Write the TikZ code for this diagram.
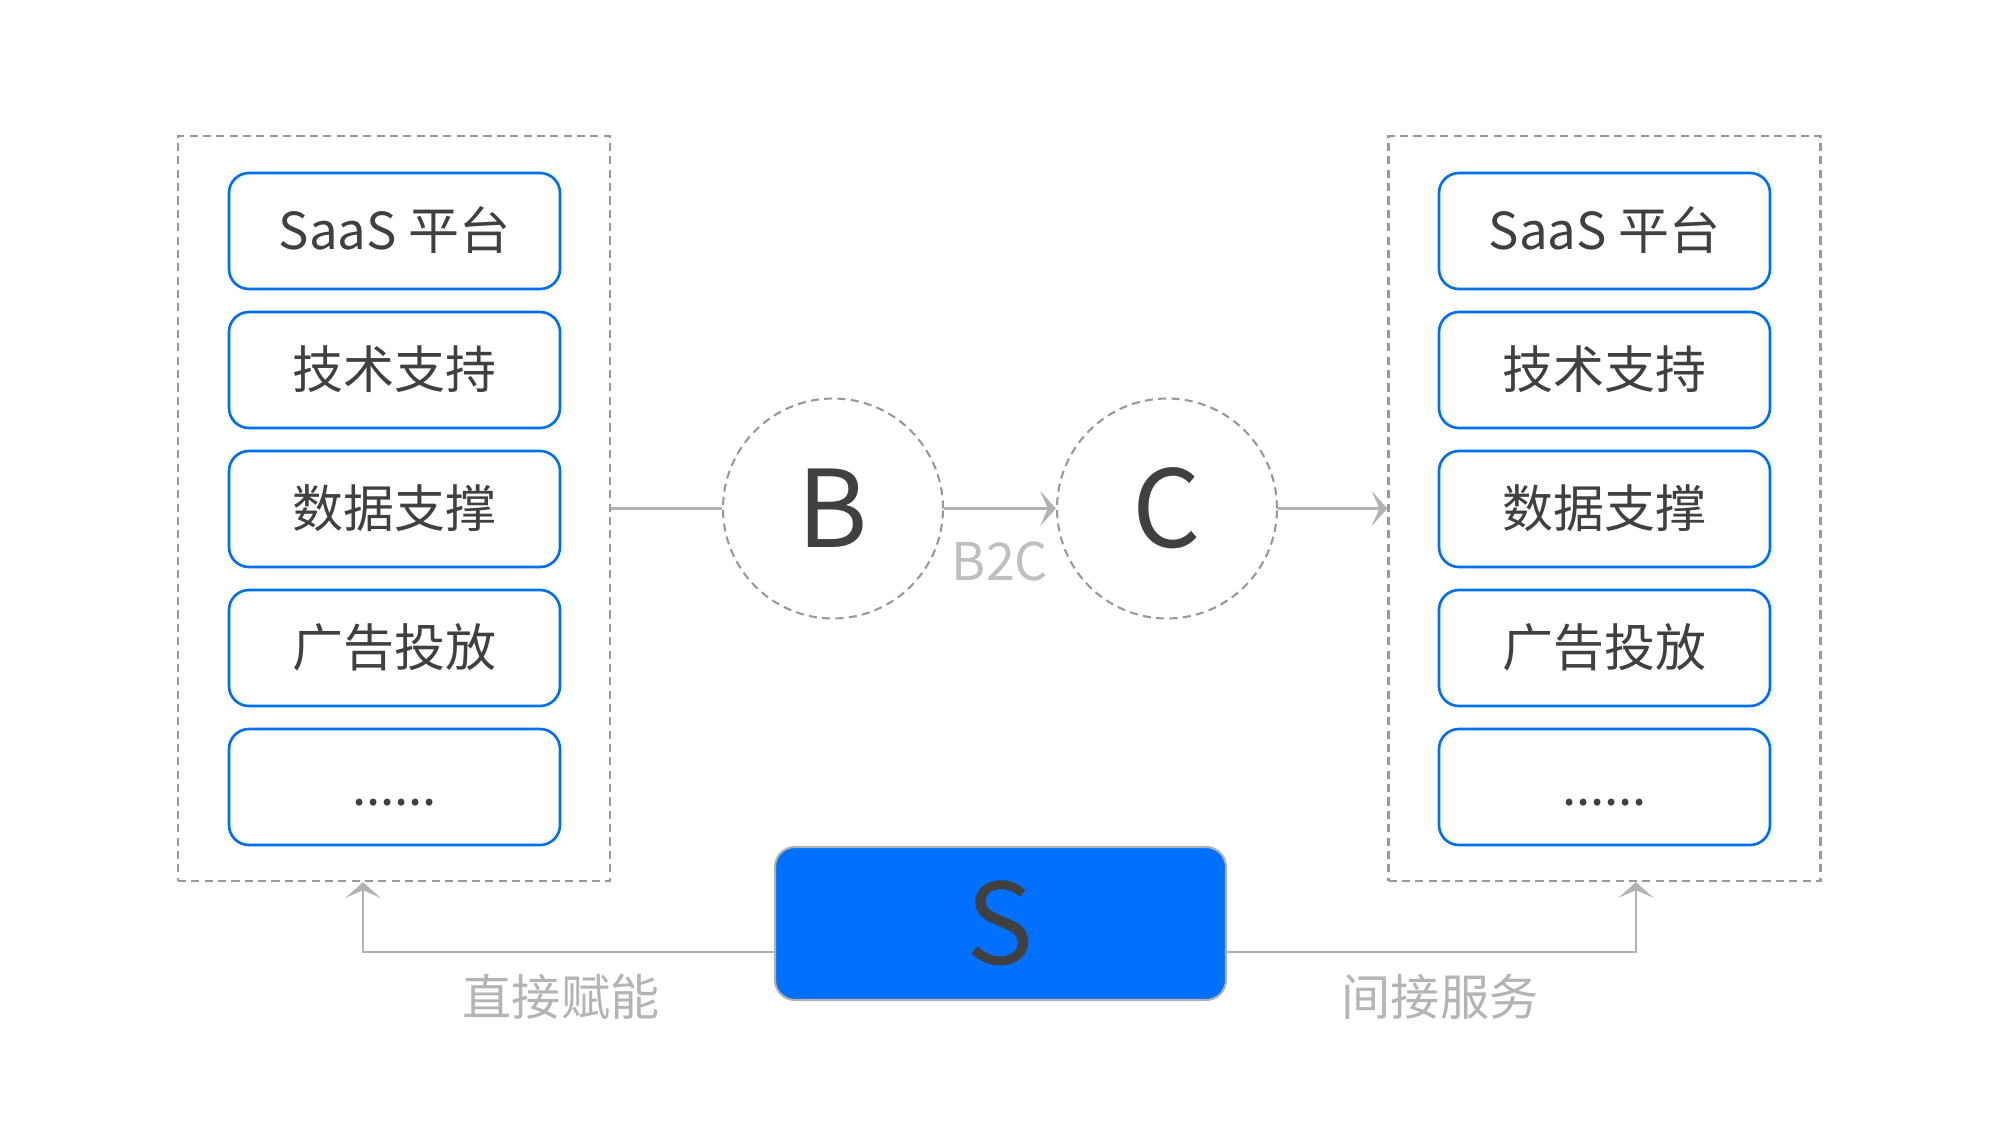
\documentclass[tikz,border=0pt]{standalone}
\usepackage{fontspec}
\setmainfont{Noto Sans CJK SC}
\usetikzlibrary{arrows.meta, positioning}

\definecolor{boxblue}{RGB}{0,112,240}
\definecolor{sblue}{RGB}{0,112,255}
\definecolor{textgray}{RGB}{64,64,64}
\definecolor{linegray}{RGB}{178,178,178}
\definecolor{dashgray}{RGB}{153,153,153}
\definecolor{notegray}{RGB}{180,180,180}

\begin{document}
\begin{tikzpicture}[
    node distance=0.23cm,
    frame/.style={
        rectangle,
        draw=dashgray,
        dash pattern=on 2.3pt off 1.5pt,
        line width=0.6pt,
        minimum width=4.32cm,
        minimum height=7.45cm
    },
    item/.style={
        rectangle,
        draw=boxblue,
        line width=0.75pt,
        rounded corners=0.2cm,
        outer sep=0pt,
        minimum width=3.31cm,
        minimum height=1.16cm,
        text height=0.42cm,
        text depth=0.06cm,
        text=textgray,
        font=\fontsize{14.5}{17}\selectfont,
        align=center
    },
    party/.style={
        circle,
        draw=dashgray,
        dash pattern=on 2.3pt off 1.5pt,
        line width=0.6pt,
        minimum size=2.2cm,
        inner sep=0pt,
        text=textgray,
        font=\fontsize{30.5}{34}\selectfont
    },
    sbox/.style={
        rectangle,
        draw=linegray,
        fill=sblue,
        line width=0.6pt,
        rounded corners=0.2cm,
        minimum width=4.51cm,
        minimum height=1.53cm,
        text=textgray,
        font=\fontsize{32}{36}\selectfont
    },
    note/.style={
        text=notegray,
        font=\fontsize{14}{17}\selectfont,
        inner sep=0pt
    },
    conn/.style={draw=linegray, line width=0.6pt},
    >={Stealth[length=4.5pt, width=10pt, inset=2.2pt]}
]
\useasboundingbox (0,0) rectangle (20,-11.37);

% dashed frames
\node[frame] (lframe) at (3.94,-5.085) {};
\node[frame] (rframe) at (16.045,-5.085) {};

% left column
\node[item] (l1) at (3.945,-2.31) {SaaS 平台};
\node[item, below=of l1] (l2) {技术支持};
\node[item, below=of l2] (l3) {数据支撑};
\node[item, below=of l3] (l4) {广告投放};
\node[item, below=of l4] (l5) {......};

% right column
\node[item] (r1) at (16.045,-2.31) {SaaS 平台};
\node[item, below=of r1] (r2) {技术支持};
\node[item, below=of r2] (r3) {数据支撑};
\node[item, below=of r3] (r4) {广告投放};
\node[item, below=of r4] (r5) {......};

% B and C
\node[party] (b) at (8.33,-5.085) {B};
\node[party] (c) at (11.67,-5.085) {C};
\node[note, font=\fontsize{14.8}{17}\selectfont, text=notegray!85] (b2c) at (10.0,-5.61) {B2C};

\draw[conn] (lframe.east) -- (b.west);
\draw[conn, ->] (b.east) -- (c.west);
\draw[conn, ->] (c.east) -- (rframe.west);

% S
\node[sbox] (s) at (10.005,-9.235) {S};

\draw[conn, ->] ([yshift=-2.85mm]s.west) -| ([xshift=-3.1mm]lframe.south);
\draw[conn, ->] ([yshift=-2.85mm]s.east) -| ([xshift=3.15mm]rframe.south);

\node[note] (direct) at (5.61,-9.97) {直接赋能};
\node[note] (indirect) at (14.40,-9.97) {间接服务};

\end{tikzpicture}
\end{document}
